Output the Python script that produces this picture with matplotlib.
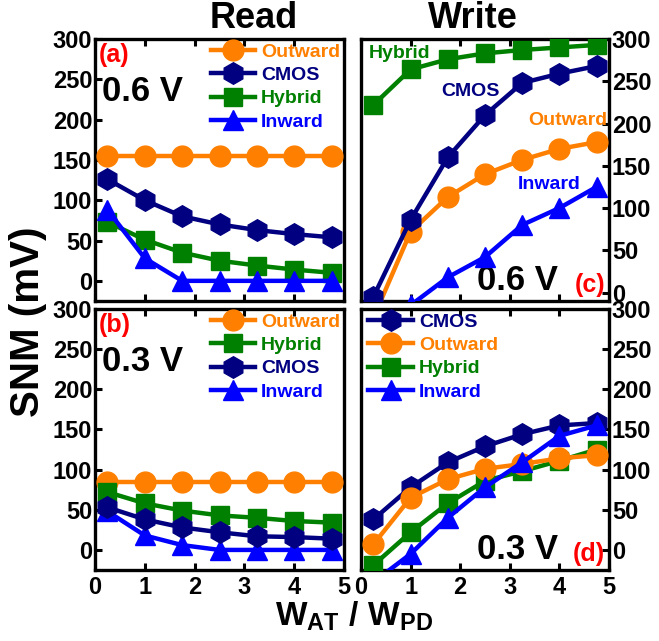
import matplotlib
matplotlib.use("Agg")
import matplotlib.pyplot as plt

plt.rcParams['font.family'] = ['Liberation Sans', 'DejaVu Sans']
plt.rcParams['font.weight'] = 'bold'
plt.rcParams['mathtext.fontset'] = 'custom'
plt.rcParams['mathtext.rm'] = 'Liberation Sans:bold'
plt.rcParams['mathtext.bf'] = 'Liberation Sans:bold'
plt.rcParams['mathtext.it'] = 'Liberation Sans:bold'

# ---------------- data ----------------
x = [0.25, 1, 1.75, 2.5, 3.25, 4, 4.75]

# (a) Read, 0.6 V
read06_outward = [155, 155, 155, 155, 155, 155, 155]
read06_cmos = [126, 100, 80, 70, 63, 58, 54]
read06_hybrid = [73, 51, 35, 25, 19, 14, 10]
read06_inward = [88, 28, 0, 0, 0, 0, 0]

# (b) Read, 0.3 V
read03_outward = [85, 85, 85, 85, 85, 85, 85]
read03_hybrid = [72, 58, 49, 43, 40, 36, 34]
read03_cmos = [53, 38, 28, 22, 17, 16, 14]
read03_inward = [48, 18, 6, 0, 0, 0, 0]

# (c) Write, 0.6 V
write06_hybrid = [222, 264, 276, 283, 287, 290, 293]
write06_cmos = [-5, 86, 160, 210, 248, 259, 268]
write06_outward = [-30, 72, 113, 140, 157, 170, 178]
write06_inward = [-50, -15, 18, 42, 80, 100, 125]

# (d) Write, 0.3 V
write03_cmos = [38, 78, 109, 129, 144, 155, 158]
write03_outward = [7, 65, 88, 101, 107, 114, 118]
write03_hybrid = [-19, 22, 58, 86, 98, 111, 125]
write03_inward = [-40, -5, 40, 78, 109, 142, 155]

yticks = [0, 50, 100, 150, 200, 250, 300]
xticks = [0, 1, 2, 3, 4, 5]

C_OUT = '#FF8000'
C_CMOS = '#000080'
C_HYB = '#008000'
C_INW = '#0000FF'
C_RED = '#FF0000'

style = {
    'Outward': dict(color=C_OUT, marker='o', ms=15),
    'CMOS': dict(color=C_CMOS, marker='h', ms=15.5),
    'Hybrid': dict(color=C_HYB, marker='s', ms=13.5),
    'Inward': dict(color=C_INW, marker='^', ms=15),
}

W, H = 659, 641
fig = plt.figure(figsize=(W / 100, H / 100), dpi=100)


def add_ax(l, r, t, b):
    return fig.add_axes([l / W, 1 - b / H, (r - l) / W, (b - t) / H])


def series(ax, name, vals, z):
    s = style[name]
    ln, = ax.plot(x, vals, color=s['color'], marker=s['marker'], lw=3.2,
                  ms=s['ms'], mec=s['color'], mfc=s['color'], zorder=z,
                  label=name, clip_on=True)
    return ln


def setup(ax, side, ylo, xlabels):
    ax.set_xlim(0, 5)
    ax.set_ylim(ylo, 300)
    ax.set_xticks(xticks)
    ax.set_yticks(yticks)
    for sp in ax.spines.values():
        sp.set_linewidth(2.4)
    ax.tick_params(axis='both', direction='in', length=5, width=2.2,
                   labelsize=17)
    ax.tick_params(axis='x', top=True, bottom=True, labelbottom=xlabels,
                   pad=4)
    if side == 'left':
        ax.tick_params(axis='y', left=True, right=False, labelleft=True,
                       labelright=False, pad=2)
    else:
        ax.tick_params(axis='y', left=False, right=True, labelleft=False,
                       labelright=True, pad=2)
    for lab in ax.get_xticklabels() + ax.get_yticklabels():
        lab.set_fontweight('bold')


def legend(ax, handles, loc, anchor):
    leg = ax.legend(handles=handles, loc=loc, bbox_to_anchor=anchor,
                    frameon=False, handlelength=2.3,
                    handletextpad=0.3, labelspacing=0.3, borderaxespad=0,
                    borderpad=0, prop={'weight': 'bold', 'size': 14})
    for txt, h in zip(leg.get_texts(), handles):
        txt.set_color(h.get_color())
    return leg


# (a)
axa = add_ax(95, 344, 39, 301)
setup(axa, 'left', -25, False)
h_out = series(axa, 'Outward', read06_outward, 3)
h_hyb = series(axa, 'Hybrid', read06_hybrid, 4)
h_cm = series(axa, 'CMOS', read06_cmos, 5)
h_in = series(axa, 'Inward', read06_inward, 6)
legend(axa, [h_out, h_cm, h_hyb, h_in], 'upper right', (0.985, 0.985))
axa.text(0.015, 0.985, '(a)', transform=axa.transAxes, color=C_RED,
         fontsize=18, fontweight='bold', ha='left', va='top')
axa.text(0.03, 0.80, '0.6 V', transform=axa.transAxes, color='black',
         fontsize=25, fontweight='bold', ha='left', va='center')

# (b)
axb = add_ax(95, 344, 309, 570)
setup(axb, 'left', -25, True)
h_out = series(axb, 'Outward', read03_outward, 3)
h_in = series(axb, 'Inward', read03_inward, 4)
h_hyb = series(axb, 'Hybrid', read03_hybrid, 5)
h_cm = series(axb, 'CMOS', read03_cmos, 6)
legend(axb, [h_out, h_hyb, h_cm, h_in], 'upper right', (0.985, 0.985))
axb.text(0.015, 0.985, '(b)', transform=axb.transAxes, color=C_RED,
         fontsize=18, fontweight='bold', ha='left', va='top')
axb.text(0.03, 0.80, '0.3 V', transform=axb.transAxes, color='black',
         fontsize=25, fontweight='bold', ha='left', va='center')

# (c)
axc = add_ax(361, 609, 39, 301)
setup(axc, 'right', -10, False)
series(axc, 'Outward', write06_outward, 3)
series(axc, 'Hybrid', write06_hybrid, 4)
series(axc, 'CMOS', write06_cmos, 5)
series(axc, 'Inward', write06_inward, 6)
axc.text(0.03, 0.945, 'Hybrid', transform=axc.transAxes, color=C_HYB,
         fontsize=14, fontweight='bold', ha='left', va='center')
axc.text(0.44, 0.80, 'CMOS', transform=axc.transAxes, color=C_CMOS,
         fontsize=14, fontweight='bold', ha='center', va='center')
axc.text(0.995, 0.69, 'Outward', transform=axc.transAxes, color=C_OUT,
         fontsize=14, fontweight='bold', ha='right', va='center')
axc.text(0.76, 0.445, 'Inward', transform=axc.transAxes, color=C_INW,
         fontsize=14, fontweight='bold', ha='center', va='center')
axc.text(0.985, 0.015, '(c)', transform=axc.transAxes, color=C_RED,
         fontsize=18, fontweight='bold', ha='right', va='bottom')
axc.text(0.795, 0.015, '0.6 V', transform=axc.transAxes, color='black',
         fontsize=25, fontweight='bold', ha='right', va='bottom')

# (d)
axd = add_ax(361, 609, 309, 570)
setup(axd, 'right', -25, True)
h_cm = series(axd, 'CMOS', write03_cmos, 3)
h_hyb = series(axd, 'Hybrid', write03_hybrid, 4)
h_out = series(axd, 'Outward', write03_outward, 5)
h_in = series(axd, 'Inward', write03_inward, 6)
legend(axd, [h_cm, h_out, h_hyb, h_in], 'upper left', (0.03, 0.985))
axd.text(0.985, 0.015, '(d)', transform=axd.transAxes, color=C_RED,
         fontsize=18, fontweight='bold', ha='right', va='bottom')
axd.text(0.795, 0.015, '0.3 V', transform=axd.transAxes, color='black',
         fontsize=25, fontweight='bold', ha='right', va='bottom')

# titles & labels
fig.text(254 / W, 1 - 18 / H, 'Read', fontsize=26, fontweight='bold',
         ha='center', va='center')
fig.text(473 / W, 1 - 18 / H, 'Write', fontsize=26, fontweight='bold',
         ha='center', va='center')
fig.text(28 / W, 1 - 322 / H, 'SNM (mV)', fontsize=29, fontweight='bold',
         ha='center', va='center', rotation=90)
fig.text(354 / W, 1 - 626 / H, r'$\mathbf{W_{AT}\ /\ W_{PD}}$', fontsize=24,
         ha='center', va='baseline')

fig.savefig('out.png', dpi=100)
